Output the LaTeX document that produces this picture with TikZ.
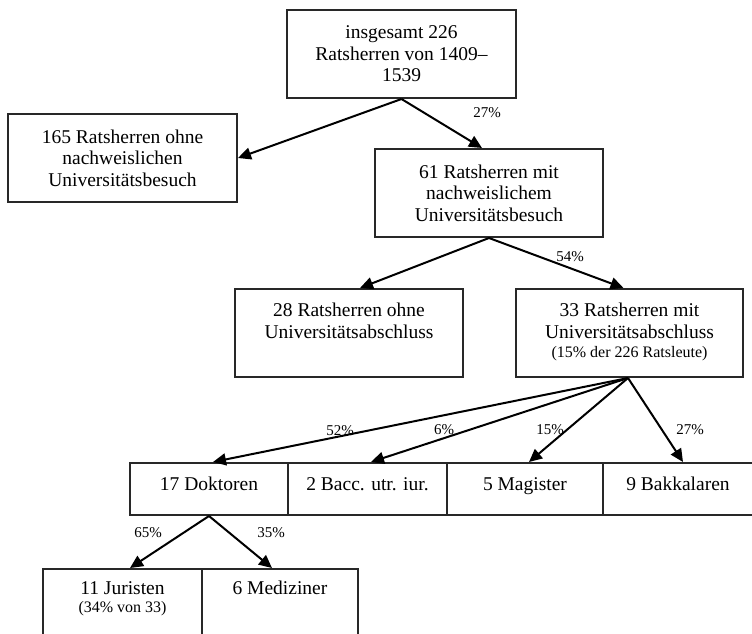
\documentclass[tikz,border=0pt]{standalone}
\usepackage{fontspec}
\setmainfont{Liberation Serif}
\usetikzlibrary{arrows.meta}
\definecolor{frame}{RGB}{40,40,40}
\tikzset{
  box/.style={draw=frame, line width=2pt, rectangle, inner sep=0pt, fill=white},
  txt/.style={align=center, inner sep=0pt, font=\fontsize{19.5}{21.5}\selectfont},
  small/.style={font=\fontsize{16}{18}\selectfont},
  pct/.style={inner sep=0pt, font=\fontsize{15}{17}\selectfont},
  link/.style={line width=2pt, -{Triangle[length=13pt,width=12pt]}},
}
\begin{document}
\begin{tikzpicture}[x=1pt,y=-1pt]
\useasboundingbox (0,0) rectangle (752,634);
\clip (0,0) rectangle (752,634);

% top level
\node[box, minimum width=229pt, minimum height=88pt] (top) at (401.5,54) {};
\node[txt] at (top) {insgesamt 226\\Ratsherren von 1409–\\1539};

% university attendance
\node[box, minimum width=229pt, minimum height=88pt] (l165) at (122.5,158) {};
\node[txt] at (l165) {165 Ratsherren ohne\\nachweislichen\\Universitätsbesuch};
\node[box, minimum width=228pt, minimum height=88pt] (b61) at (489,193) {};
\node[txt] at (b61) {61 Ratsherren mit\\nachweislichem\\Universitätsbesuch};

% degree
\node[box, minimum width=228pt, minimum height=88pt] (b28) at (349,333) {};
\node[txt, anchor=north] at ([yshift=-15]b28.north) {28 Ratsherren ohne\\Universitätsabschluss};
\node[box, minimum width=227pt, minimum height=88pt] (b33) at (629.5,333) {};
\node[txt, anchor=north] (t33) at ([yshift=-15]b33.north) {33 Ratsherren mit\\Universitätsabschluss};
\node[txt, small, anchor=north] at ([yshift=-8]t33.south) {(15\% der 226 Ratsleute)};

% kind of degree
\node[box, minimum width=158pt, minimum height=52pt] (dok) at (209,489) {};
\node[box, minimum width=159pt, minimum height=52pt] (bac) at (367.5,489) {};
\node[box, minimum width=156pt, minimum height=52pt] (mag) at (525,489) {};
\node[box, minimum width=180pt, minimum height=52pt] (bak) at (693,489) {};
\node[txt, anchor=north] at ([yshift=-15]dok.north) {17 Doktoren};
\node[txt, anchor=north] at ([yshift=-15]bac.north) {2 Bacc. utr. iur.};
\node[txt, anchor=north] at ([yshift=-15]mag.north) {5 Magister};
\node[txt, anchor=north] at ([xshift=-15,yshift=-15]bak.north) {9 Bakkalaren};

% doctors by faculty
\node[box, minimum width=159pt, minimum height=90pt] (jur) at (122.5,614) {};
\node[box, minimum width=156pt, minimum height=90pt] (med) at (280,614) {};
\node[txt, anchor=north] (tjur) at ([yshift=-13]jur.north) {11 Juristen};
\node[txt, small, anchor=north] at ([yshift=-7]tjur.south) {(34\% von 33)};
\node[txt, anchor=north] at ([yshift=-13]med.north) {6 Mediziner};

% connectors
\draw[link] (top.south) -- (l165.east);
\draw[link] (top.south) -- ([xshift=-7]b61.north);
\draw[link] (b61.south) -- ([xshift=11]b28.north);
\draw[link] (b61.south) -- ([xshift=-6]b33.north);
\draw[link] ([xshift=-1.5]b33.south) -- ([xshift=4]dok.north);
\draw[link] ([xshift=-1.5]b33.south) -- ([xshift=3.5]bac.north);
\draw[link] ([xshift=-1.5]b33.south) -- ([xshift=4]mag.north);
\draw[link] ([xshift=-1.5]b33.south) -- ([xshift=-10]bak.north);
\draw[link] (dok.south) -- ([xshift=7.5]jur.north);
\draw[link] (dok.south) -- ([xshift=-8]med.north);

% shares
\node[pct] (p1) at (487,113) {27\%};
\node[pct] (p2) at (570,257) {54\%};
\node[pct] (p3) at (340,431) {52\%};
\node[pct] (p4) at (444,430) {6\%};
\node[pct] (p5) at (550,430) {15\%};
\node[pct] (p6) at (690,430) {27\%};
\node[pct] (p7) at (148,533) {65\%};
\node[pct] (p8) at (271,533) {35\%};
\end{tikzpicture}
\end{document}
